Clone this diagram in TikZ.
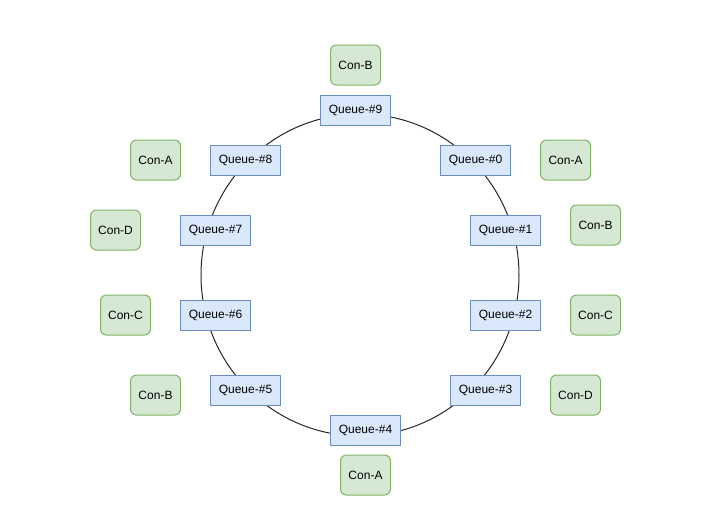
\documentclass[tikz,border=0pt]{standalone}
\usepackage{fontspec}
\setmainfont{Liberation Sans}
\definecolor{qfill}{HTML}{DAE8FC}
\definecolor{qline}{HTML}{6C8EBF}
\definecolor{cfill}{HTML}{D5E8D4}
\definecolor{cline}{HTML}{82B366}
\begin{document}
\begin{tikzpicture}[x=1pt,y=-1pt,
  queue/.style={draw=qline,fill=qfill,line width=1pt,minimum width=70pt,minimum height=30pt,inner sep=0pt,font=\fontsize{12}{14}\selectfont},
  con/.style={draw=cline,fill=cfill,line width=1pt,rounded corners=6pt,minimum width=50pt,minimum height=40pt,inner sep=0pt,font=\fontsize{12}{14}\selectfont},
  ring/.style={draw=black!85,line width=1pt}]
\useasboundingbox (0,0) rectangle (706,528);
\draw[ring] (360,275) ellipse[x radius=159,y radius=161];
\node[queue] (q9) at (355.5,110.5) {Queue-\#9};
\node[queue] (q0) at (475.5,160) {Queue-\#0};
\node[queue] (q1) at (505.5,230) {Queue-\#1};
\node[queue] (q2) at (505.5,315) {Queue-\#2};
\node[queue] (q3) at (485.5,390.5) {Queue-\#3};
\node[queue] (q4) at (365.5,430) {Queue-\#4};
\node[queue] (q5) at (245.5,390.5) {Queue-\#5};
\node[queue] (q6) at (215.5,315) {Queue-\#6};
\node[queue] (q7) at (215.5,230) {Queue-\#7};
\node[queue] (q8) at (245.5,160) {Queue-\#8};
\node[con] (c9) at (355.5,65) {Con-B};
\node[con] (c0) at (565.5,160) {Con-A};
\node[con] (c1) at (595.5,225) {Con-B};
\node[con] (c2) at (595.5,315) {Con-C};
\node[con] (c3) at (575.5,395) {Con-D};
\node[con] (c4) at (365.5,475) {Con-A};
\node[con] (c5) at (155.5,395) {Con-B};
\node[con] (c6) at (125.5,315) {Con-C};
\node[con] (c7) at (115.5,230) {Con-D};
\node[con] (c8) at (155.5,160) {Con-A};
\end{tikzpicture}
\end{document}
